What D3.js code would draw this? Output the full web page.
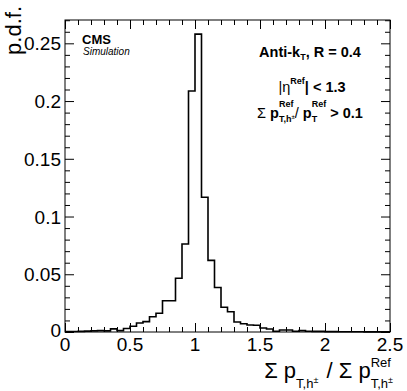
<!DOCTYPE html>
<html><head><meta charset="utf-8">
<script src="https://cdn.jsdelivr.net/npm/d3@7"></script>
<style>
html,body{margin:0;padding:0;background:#fff;}
svg text{white-space:pre;font-family:"Liberation Sans",Arial,Helvetica,sans-serif;}
</style></head>
<body>
<svg id="c" width="407" height="391"></svg>
<script>
// ---------- data ----------
const binWidth = 0.05;
const binLow = d3.range(0, 50).map(i => +(i * binWidth).toFixed(2));
const pdfValues = [
  0.0003, 0.0004, 0.0005, 0.0008, 0.0010, 0.0012, 0.0010, 0.0027, 0.0012, 0.0030,
  0.0050, 0.0078, 0.0090, 0.0132, 0.0162, 0.0271, 0.0271, 0.0465, 0.0762, 0.2087,
  0.2580, 0.1167, 0.0620, 0.0386, 0.0214, 0.0176, 0.0086, 0.0072, 0.0060, 0.0058,
  0.0034, 0.0026, 0.0006, 0.0017, 0.0017, 0.0006, 0.0012, 0.0006, 0.0005, 0.0005,
  0.0003, 0.0003, 0.0002, 0.0002, 0.0002, 0.0002, 0.0001, 0.0001, 0.0001, 0.0001
];
const xMajorTicks = [0, 0.5, 1, 1.5, 2, 2.5];
const xTickLabels = ["0", "0.5", "1", "1.5", "2", "2.5"];
const yMajorTicks = [0, 0.05, 0.1, 0.15, 0.2, 0.25];
const yTickLabels = ["0", "0.05", "0.1", "0.15", "0.2", "0.25"];
const xMinorTicks = d3.range(0, 26).map(i => +(i * 0.1).toFixed(2));
const yMinorTicks = d3.range(0, 28).map(i => +(i * 0.01).toFixed(2));

// ---------- layout ----------
const L = 65, R = 390, T = 20, B = 332;
const svg = d3.select("#c");
const x = d3.scaleLinear().domain([0, 2.5]).range([L, R]);
const y = d3.scaleLinear().domain([0, 0.2702]).range([B, T]);

// histogram outline
const pts = [];
binLow.forEach((lo, i) => {
  pts.push([lo, pdfValues[i]]);
  pts.push([+(lo + binWidth).toFixed(2), pdfValues[i]]);
});
svg.append("path")
  .attr("d", d3.line().x(d => x(d[0])).y(d => y(d[1]))(pts))
  .attr("fill", "none").attr("stroke", "#000").attr("stroke-width", 1.6)
  .attr("stroke-linejoin", "miter");

// axes with inward ticks
function axis(gen, tx, ty, vals, size) {
  const g = svg.append("g").attr("transform", `translate(${tx},${ty})`)
    .call(gen.tickValues(vals).tickSize(size).tickFormat(""));
  g.select(".domain").remove();
  g.selectAll("line").attr("stroke", "#000").attr("stroke-width", 1);
  return g;
}
const minorX = xMinorTicks.filter(v => !xMajorTicks.includes(v));
const minorY = yMinorTicks.filter(v => !yMajorTicks.some(m => Math.abs(m - v) < 1e-9));
axis(d3.axisBottom(x), 0, B, xMajorTicks, -9);
axis(d3.axisBottom(x), 0, B, minorX, -5);
axis(d3.axisTop(x), 0, T, xMajorTicks, -9);
axis(d3.axisTop(x), 0, T, minorX, -5);
axis(d3.axisLeft(y), L, 0, yMajorTicks, -9);
axis(d3.axisLeft(y), L, 0, minorY, -5);
axis(d3.axisRight(y), R, 0, yMajorTicks, -9);
axis(d3.axisRight(y), R, 0, minorY, -5);

// frame
svg.append("rect").attr("x", L).attr("y", T).attr("width", R - L).attr("height", B - T)
  .attr("fill", "none").attr("stroke", "#000").attr("stroke-width", 1);

// tick labels
const FS = 19;
svg.append("g").selectAll("text").data(xMajorTicks).join("text")
  .attr("x", d => x(d)).attr("y", 351).attr("text-anchor", "middle")
  .attr("font-size", FS).text((d, i) => xTickLabels[i]);
svg.append("g").selectAll("text").data(yMajorTicks).join("text")
  .attr("x", 61).attr("y", d => (d === 0 ? y(d) + 5 : y(d) + 7)).attr("text-anchor", "end")
  .attr("font-size", FS).text((d, i) => yTickLabels[i]);

// y title
svg.append("text").attr("transform", "translate(21,6) rotate(-90)")
  .attr("text-anchor", "end").attr("font-size", 22).text("p.d.f.");

// rich text helper
function rich(x0, y0, parts, anchor) {
  const g = svg.append("g");
  let cx = 0;
  function put(p, at) {
    const t = g.append("text").attr("x", at).attr("y", p.dy || 0)
      .attr("font-size", p.s);
    t.append("tspan").text(p.t);
    if (p.tail) t.append("tspan").attr("font-size", p.tail.s).attr("dy", p.tail.dy).text(p.tail.t);
    if (p.b) t.attr("font-weight", "bold");
    if (p.i) t.attr("font-style", "italic");
    return t.node().getComputedTextLength();
  }
  parts.forEach(p => {
    if (p.stack) {
      let w = 0;
      p.stack.forEach(q => { w = Math.max(w, put(q, cx)); });
      cx += w;
    } else {
      cx += put(p, cx + (p.dx || 0)) + (p.dx || 0);
    }
  });
  const off = anchor === "end" ? -cx : anchor === "middle" ? -cx / 2 : 0;
  g.attr("transform", `translate(${x0 + off},${y0})`);
  return g;
}

// x title
rich(393, 378, [
  {t: "Σ p", s: 22},
  {stack: [{t: "T,h", s: 13, dy: 10, tail: {t: "±", s: 9, dy: -5}}]},
  {t: " / Σ p", s: 22, dx: 2},
  {stack: [{t: "Ref", s: 13, dy: -11}, {t: "T,h", s: 13, dy: 10, tail: {t: "±", s: 9, dy: -5}}]}
], "end");

// CMS label
svg.append("text").attr("x", 82).attr("y", 44).attr("font-size", 13)
  .attr("font-weight", "bold").text("CMS");
svg.append("text").attr("x", 83).attr("y", 55).attr("font-size", 10)
  .attr("font-style", "italic").text("Simulation");

// legend texts
rich(310, 57, [
  {t: "Anti-k", s: 14.5, b: 1},
  {t: "T", s: 9, b: 1, dy: 3},
  {t: ", R = 0.4", s: 14.5, b: 1}
], "middle");
rich(312, 92, [
  {t: "|η", s: 14.5},
  {t: "Ref", s: 9, b: 1, dy: -8},
  {t: "| < 1.3", s: 14.5, b: 1}
], "middle");
rich(310, 118, [
  {t: "Σ ", s: 14.5},
  {t: "p", s: 14.5, b: 1},
  {stack: [{t: "Ref", s: 9, b: 1, dy: -11}, {t: "T,h", s: 9, b: 1, dy: 4, tail: {t: "±", s: 6, dy: -3}}]},
  {t: "/ ", s: 14.5},
  {t: "p", s: 14.5, b: 1},
  {stack: [{t: "Ref", s: 9, b: 1, dy: -11}, {t: "T", s: 9, b: 1, dy: 4}]},
  {t: " > 0.1", s: 14.5, b: 1}
], "middle");
</script>
</body></html>
